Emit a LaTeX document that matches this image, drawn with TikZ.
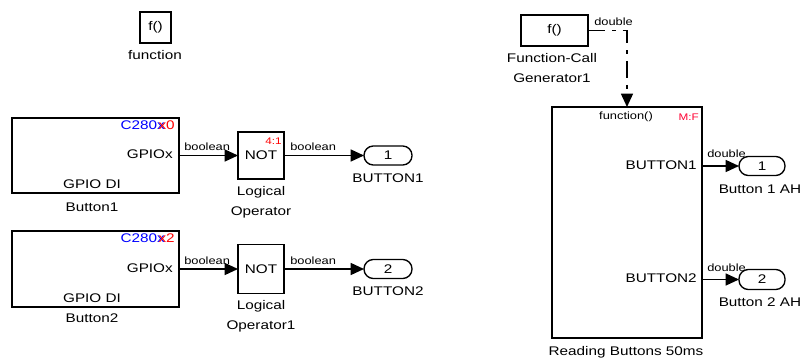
\documentclass[tikz,border=0pt]{standalone}
\usepackage{fontspec}
\setmainfont{Liberation Sans}[FakeStretch=1.22]
\usetikzlibrary{arrows.meta}
\begin{document}
\begin{tikzpicture}[x=0.75pt,y=-0.75pt,
  blk/.style={draw=black,line width=1pt,fill=white,inner sep=0pt,outer sep=0pt},
  sz/.style 2 args={minimum width=#1*0.75pt,minimum height=#2*0.75pt},
  port/.style={blk,rounded corners=7pt},
  lbl/.style={inner sep=0pt,font=\fontsize{9.4pt}{11pt}\selectfont},
  sig/.style={inner sep=0pt,font=\fontsize{7.9pt}{9pt}\selectfont},
  tiny/.style={inner sep=0pt,font=\fontsize{7.2pt}{8pt}\selectfont},
  wire/.style={line width=1.1pt,-{Triangle[length=10pt,width=9pt]}},
]
\useasboundingbox (0,0) rectangle (804,360);

% function block
\node[blk,sz={31}{31},lbl] (fn) at (155.5,27.5) {f()};
\node[lbl] (fnl) at (155,55) {function};

% row 1
\node[blk,sz={167}{75}] (b1) at (95.5,155.5) {};
\node[lbl,anchor=east] (b1c) at (175,125) {\textcolor{blue}{C280x}\kern-0.5em\textcolor{red}{x0}};
\node[lbl,anchor=east] (b1o) at (173,154) {GPIOx};
\node[lbl] (b1d) at (92,184) {GPIO DI};
\node[lbl] (b1n) at (92,207) {Button1};

\node[blk,sz={46}{47},lbl] (n1) at (261,155.5) {NOT};
\node[tiny,anchor=east,text=red] (n1r) at (282,141) {4:1};
\node[lbl] (n1a) at (261,192) {Logical};
\node[lbl] (n1b) at (261,212) {Operator};

\node[port,sz={48}{19},lbl] (p1) at (388,155.5) {1};
\node[lbl] (p1l) at (388,178) {BUTTON1};

\draw[wire] (b1.east) -- (n1.west);
\draw[wire] (n1.east) -- (p1.west);
\node[sig,anchor=south west] (s1) at (184,151) {boolean};
\node[sig,anchor=south west] (s2) at (290,151) {boolean};

% row 2
\node[blk,sz={167}{76}] (b2) at (95.5,269) {};
\node[lbl,anchor=east] (b2c) at (175,238) {\textcolor{blue}{C280x}\kern-0.5em\textcolor{red}{x2}};
\node[lbl,anchor=east] (b2o) at (173,268) {GPIOx};
\node[lbl] (b2d) at (92,298) {GPIO DI};
\node[lbl] (b2n) at (92,318) {Button2};

\node[blk,sz={46}{49},lbl] (n2) at (261,269) {NOT};
\node[lbl] (n2a) at (261,306) {Logical};
\node[lbl] (n2b) at (261,326) {Operator1};

\node[port,sz={48}{19},lbl] (p2) at (388,269) {2};
\node[lbl] (p2l) at (388,291) {BUTTON2};

\draw[wire] (b2.east) -- (n2.west);
\draw[wire] (n2.east) -- (p2.west);
\node[sig,anchor=south west] (s3) at (184,265) {boolean};
\node[sig,anchor=south west] (s4) at (290,265) {boolean};

% right part
\node[blk,sz={67}{31},lbl] (fcg) at (554.5,30.5) {f()};
\node[lbl] (fcga) at (552,58) {Function-Call};
\node[lbl] (fcgb) at (552,78) {Generator1};
\node[sig,anchor=south west] (s5) at (594,26) {double};

\node[blk,line width=2.2pt,sz={150}{231}] (big) at (627,222.5) {};
\node[sig] (bigf) at (626,117) {function()};
\node[tiny,anchor=east,text=red!80!magenta] (bigm) at (699,117) {M:F};
\node[lbl,anchor=east] (bigo1) at (697,165) {BUTTON1};
\node[lbl,anchor=east] (bigo2) at (697,278) {BUTTON2};
\node[lbl] (bign) at (626,352) {Reading Buttons 50ms};

\draw[wire,dash pattern=on 13pt off 5pt on 3pt off 5pt] (fcg.east) -| (big.north);

\node[port,sz={46}{19},lbl] (q1) at (762,166) {1};
\node[lbl] (q1l) at (760,189) {Button 1 AH};
\node[port,sz={46}{20},lbl] (q2) at (762,279.5) {2};
\node[lbl] (q2l) at (760,302) {Button 2 AH};

\draw[wire] (big.east |- q1.west) -- (q1.west);
\draw[wire] (big.east |- q2.west) -- (q2.west);
\node[sig,anchor=west] (s6) at (707,154) {double};
\node[sig,anchor=west] (s7) at (707,268) {double};
\end{tikzpicture}
\end{document}
